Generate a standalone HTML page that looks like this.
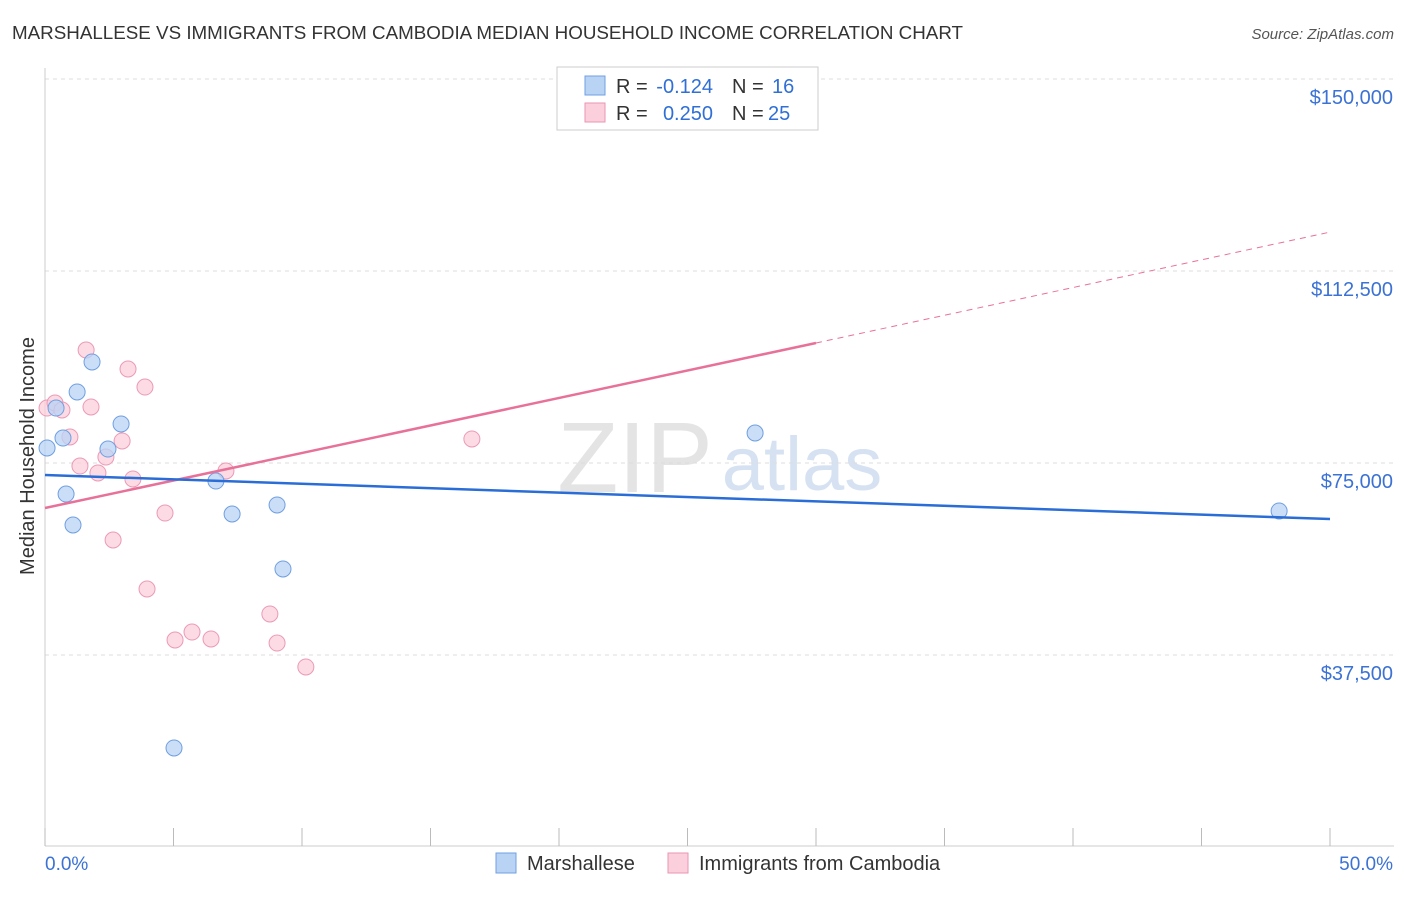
<!DOCTYPE html>
<html><head><meta charset="utf-8"><style>
body{margin:0;background:#fff;font-family:"Liberation Sans",sans-serif;}
svg text{font-family:"Liberation Sans",sans-serif;}
</style></head><body>
<svg id="chart" width="1406" height="892" xmlns="http://www.w3.org/2000/svg">
<text x="12" y="39" font-size="18.8" fill="#333">MARSHALLESE VS IMMIGRANTS FROM CAMBODIA MEDIAN HOUSEHOLD INCOME CORRELATION CHART</text>
<text x="1394" y="39" font-size="15" fill="#555" font-style="italic" text-anchor="end">Source: ZipAtlas.com</text>
<text x="34" y="456" font-size="20" fill="#333" text-anchor="middle" transform="rotate(-90 34 456)">Median Household Income</text>
<g><text x="635" y="492" font-size="100" fill="#e4e4e4" font-family="Liberation Serif" text-anchor="middle">ZIP</text><text x="802" y="490" font-size="76" fill="#d6e2f2" text-anchor="middle">atlas</text></g>
<g id="grid"></g><g id="axes"></g><g id="marks"></g>
<g>
<rect x="557" y="67" width="261" height="63" fill="#fff" stroke="#ccc"/>
<rect x="585" y="76" width="20" height="19" fill="#b9d3f5" stroke="#6f9fe0"/>
<text x="616" y="93" font-size="20" fill="#333">R =</text>
<text x="713" y="93" font-size="20" fill="#2f6fd6" text-anchor="end">-0.124</text>
<text x="732" y="93" font-size="20" fill="#333">N =</text>
<text x="772" y="93" font-size="20" fill="#2f6fd6">16</text>
<rect x="585" y="103" width="20" height="19" fill="#fbcfdc" stroke="#e996b2"/>
<text x="616" y="120" font-size="20" fill="#333">R =</text>
<text x="713" y="120" font-size="20" fill="#2f6fd6" text-anchor="end">0.250</text>
<text x="732" y="120" font-size="20" fill="#333">N =</text>
<text x="768" y="120" font-size="20" fill="#2f6fd6">25</text>
</g>
<g>
<rect x="496" y="853" width="20" height="20" fill="#b9d3f5" stroke="#6f9fe0"/>
<text x="527" y="870" font-size="20" fill="#333">Marshallese</text>
<rect x="668" y="853" width="20" height="20" fill="#fbcfdc" stroke="#e996b2"/>
<text x="699" y="870" font-size="20" fill="#333">Immigrants from Cambodia</text>
</g>
</svg>
<script>
const blueX=[0.08,0.43,0.70,0.82,1.09,1.25,1.83,2.45,2.96,5.02,6.65,7.28,9.03,9.26,27.63,48.02];
const blueY=[77930,85740,79880,68940,62890,88870,94730,77730,82620,19340,71480,65040,66800,54300,80860,65630];
const pinkX=[0.08,0.39,0.66,0.97,1.36,1.60,1.79,2.06,2.37,2.65,3.00,3.23,3.42,3.89,3.97,4.67,5.06,5.72,6.46,7.04,8.75,9.03,10.15,16.61,26.54];
const pinkY=[85740,86720,85350,80080,74410,97070,85940,73050,76170,59960,79300,93360,71880,89840,50390,65230,40430,41990,40630,73440,45510,39840,35160,79690,149220];
const blueTrend=[72660,64060];
const pinkTrend=[66210,98440,120100];
const yTicks=[37500,75000,112500,150000];
const yTickLabels=["$37,500","$75,000","$112,500","$150,000"];
const xTicks=[0,5,10,15,20,25,30,35,40,45,50];
const NS="http://www.w3.org/2000/svg";
const sx=v=>45+v/50*1285;
const sy=v=>847-v/37500*192;
function mk(tag,attrs,parent){const e=document.createElementNS(NS,tag);for(const k in attrs)e.setAttribute(k,attrs[k]);document.getElementById(parent).appendChild(e);return e;}
yTicks.forEach((t,i)=>{
 const l=mk('line',{x1:45,x2:1394,y1:sy(t),y2:sy(t),stroke:'#ddd','stroke-dasharray':'4,4'},'grid');
 
 
 const tx=mk('text',{x:1393,y:sy(t)+25,'font-size':20,fill:'#3b72d4','text-anchor':'end'},'grid');
 tx.textContent=yTickLabels[i];
 
 
});
const ax=mk('line',{x1:45,x2:45,y1:68,y2:846,stroke:'#ccc'},'axes');


const bx=mk('line',{x1:45,x2:1394,y1:846,y2:846,stroke:'#ccc'},'axes');


xTicks.forEach(t=>{
 const l=mk('line',{x1:sx(t),x2:sx(t),y1:828,y2:846,stroke:'#bbb'},'axes');
 
 
});
const xl0=mk('text',{x:45,y:870,'font-size':19,fill:'#3b72d4'},'axes');xl0.textContent=xTicks[0].toFixed(1)+'%';


const xl1=mk('text',{x:1393,y:870,'font-size':19,fill:'#3b72d4','text-anchor':'end'},'axes');xl1.textContent=xTicks[xTicks.length-1].toFixed(1)+'%';


pinkX.forEach((x,i)=>{
 const c=mk('circle',{cx:sx(x),cy:sy(pinkY[i]),r:8,fill:'#fbcfdc','fill-opacity':0.75,stroke:'#eb9ab5'},'marks');
 
 
});
blueX.forEach((x,i)=>{
 const c=mk('circle',{cx:sx(x),cy:sy(blueY[i]),r:8,fill:'#b9d3f5','fill-opacity':0.75,stroke:'#6f9fe0'},'marks');
 
 
});
const pl=mk('line',{x1:sx(0),y1:sy(pinkTrend[0]),x2:sx(30),y2:sy(pinkTrend[1]),stroke:'#e8719a','stroke-width':2.5},'marks');


const pd=mk('line',{x1:sx(30),y1:sy(pinkTrend[1]),x2:sx(50),y2:sy(pinkTrend[2]),stroke:'#e8719a','stroke-width':1,'stroke-dasharray':'6,5'},'marks');


const bl=mk('line',{x1:sx(0),y1:sy(blueTrend[0]),x2:sx(50),y2:sy(blueTrend[1]),stroke:'#2a6dd6','stroke-width':2.5},'marks');


</script>
</body></html>
